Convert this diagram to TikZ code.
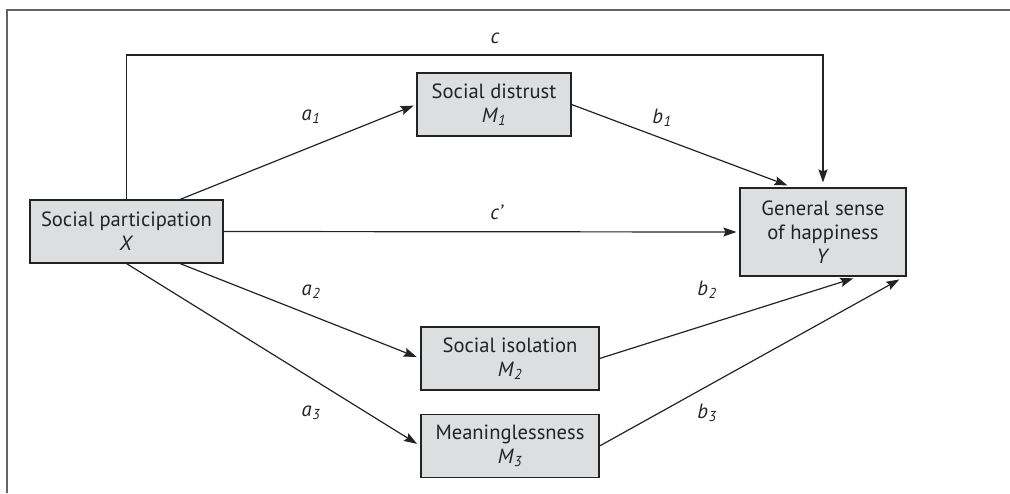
\documentclass[tikz,border=0pt]{standalone}
\usepackage{fontspec}
\setmainfont{PT Sans}
\usetikzlibrary{arrows.meta,calc}
\definecolor{boxfill}{RGB}{221,222,224}
\definecolor{ink}{RGB}{35,35,35}
\definecolor{framegray}{RGB}{100,100,100}
\newcommand{\lab}[2]{\textit{#1\kern0.5pt\textsubscript{#2}}}
\begin{document}
\begin{tikzpicture}[x=1pt,y=-1pt,
  font=\fontsize{20.6}{24}\selectfont,
  varbox/.style={draw=ink, line width=1.1pt, fill=boxfill, align=center, text=ink, inner sep=0pt, minimum height=63pt},
  arr/.style={draw=ink, line width=1.2pt, -{Stealth[length=13pt,width=9pt,inset=2pt]}},
  coef/.style={text=ink, inner sep=0pt}]
\useasboundingbox (0,0) rectangle (1010,493);
\draw[framegray, line width=2pt] (7,493) -- (7,10) -- (1010,10);
% nodes
\node[varbox, minimum width=193pt] (X) at (126.5,231.5) {Social participation\\\textit{X}};
\node[varbox, minimum width=154pt] (M1) at (494,104.5) {Social distrust\\\lab{M}{1}};
\node[varbox, minimum width=178pt] (M2) at (510,358.5) {Social isolation\\\lab{M}{2}};
\node[varbox, minimum width=178pt] (M3) at (510,446) {Meaninglessness\\\lab{M}{3}};
\node[varbox, minimum width=166pt, minimum height=88pt] (Y) at (823,232) {General sense\\of happiness\\\textit{Y}};
% connectors
\draw[arr, shorten >=5pt] (X.north) -- (X.north |- 0,55) -| (Y.north);
\draw[arr, shorten >=3pt] (X.east) -- (Y.west);
\draw[arr, shorten >=3pt] ([xshift=53.5pt]X.north) -- (M1.west);
\draw[arr, shorten >=4pt] ([xshift=53.5pt]X.south) -- (M2.west);
\draw[arr, shorten >=4pt] (X.south) -- (M3.west);
\draw[arr, shorten >=6pt] (M1.east) -- ([xshift=-30pt]Y.north);
\draw[arr, shorten >=6pt] (M2.east) -- ([xshift=36pt]Y.south);
\draw[arr, shorten >=6pt] (M3.east) -- ([xshift=-2pt]Y.south east);
% labels
\node[coef] (lc) at (495,38) {\textit{c}};
\node[coef] (lcp) at (497,212) {\textit{c’}};
\node[coef] (la1) at (311,117) {\lab{a}{1}};
\node[coef] (lb1) at (662,118) {\lab{b}{1}};
\node[coef] (la2) at (311,292) {\lab{a}{2}};
\node[coef] (lb2) at (707,290) {\lab{b}{2}};
\node[coef] (la3) at (311,413) {\lab{a}{3}};
\node[coef] (lb3) at (707,413) {\lab{b}{3}};
\end{tikzpicture}
\end{document}
